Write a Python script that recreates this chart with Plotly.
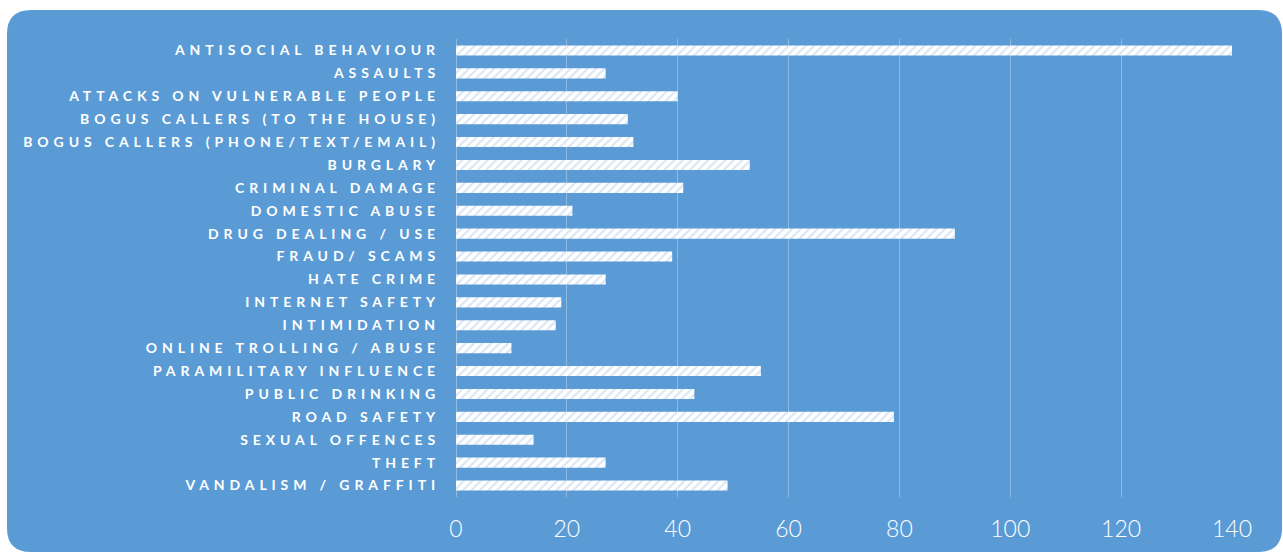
import plotly.graph_objects as go

categories = [
    "ANTISOCIAL BEHAVIOUR", "ASSAULTS", "ATTACKS ON VULNERABLE PEOPLE",
    "BOGUS CALLERS (TO THE HOUSE)", "BOGUS CALLERS (PHONE/TEXT/EMAIL)",
    "BURGLARY", "CRIMINAL DAMAGE", "DOMESTIC ABUSE", "DRUG DEALING / USE",
    "FRAUD/ SCAMS", "HATE CRIME", "INTERNET SAFETY", "INTIMIDATION",
    "ONLINE TROLLING / ABUSE", "PARAMILITARY INFLUENCE", "PUBLIC DRINKING",
    "ROAD SAFETY", "SEXUAL OFFENCES", "THEFT", "VANDALISM / GRAFFITI",
]
values = [140, 27, 40, 31, 32, 53, 41, 21, 90, 39, 27, 19, 18, 10, 55, 43, 79, 14, 27, 49]
tick_vals = [0, 20, 40, 60, 80, 100, 120, 140]

W, H = 1283, 553
ML, MR, MT, MB = 456, 51, 39, 56
pw = W - ML - MR
ph = H - MT - MB

def px(x):
    return (x - ML) / pw

def py(y):
    return (H - MB - y) / ph

# rounded background panel (pixel geometry -> paper coords)
x0, x1, y0, y1, r = 7, 1282, 10, 552, 24
pts = [
    f"M{px(x0 + r)},{py(y0)}",
    f"L{px(x1 - r)},{py(y0)}",
    f"Q{px(x1)},{py(y0)} {px(x1)},{py(y0 + r)}",
    f"L{px(x1)},{py(y1 - r)}",
    f"Q{px(x1)},{py(y1)} {px(x1 - r)},{py(y1)}",
    f"L{px(x0 + r)},{py(y1)}",
    f"Q{px(x0)},{py(y1)} {px(x0)},{py(y1 - r)}",
    f"L{px(x0)},{py(y0 + r)}",
    f"Q{px(x0)},{py(y0)} {px(x0 + r)},{py(y0)}",
    "Z",
]
bg_path = " ".join(pts)

fig = go.Figure(go.Bar(
    x=values, y=categories, orientation="h",
    marker=dict(
        color="white",
        line=dict(width=0),
        pattern=dict(shape="/", bgcolor="white", fgcolor="#b3cbeb", size=6, solidity=0.35),
    ),
    hoverinfo="skip",
))

grid = "rgba(255,255,255,0.32)"
fig.update_layout(
    width=W, height=H,
    margin=dict(l=ML, r=MR, t=MT, b=MB, autoexpand=False),
    paper_bgcolor="white",
    plot_bgcolor="rgba(0,0,0,0)",
    bargap=0.56,
    showlegend=False,
    shapes=[dict(type="path", path=bg_path, xref="paper", yref="paper",
                 fillcolor="#5B9BD5", line=dict(width=0), layer="below")],
    xaxis=dict(
        range=[0, 140], tickvals=tick_vals, showgrid=True, gridcolor=grid, gridwidth=1,
        zeroline=True, zerolinecolor=grid, zerolinewidth=1, showline=False,
        tickfont=dict(family="Lato", size=23, color="white", weight=300),
        ticklabelstandoff=16, fixedrange=True,
    ),
    yaxis=dict(
        autorange="reversed", showgrid=False, zeroline=False, showline=False,
        tickfont=dict(family="Lato", size=14, color="white", weight="bold"),
        ticklabelstandoff=15, fixedrange=True,
    ),
)

post = """
var s=document.createElement('style');
s.innerHTML='.ytick text{letter-spacing:4.9px;}';
document.head.appendChild(s);
"""
fig.write_html("out.html", post_script=post, config={"displayModeBar": False})
